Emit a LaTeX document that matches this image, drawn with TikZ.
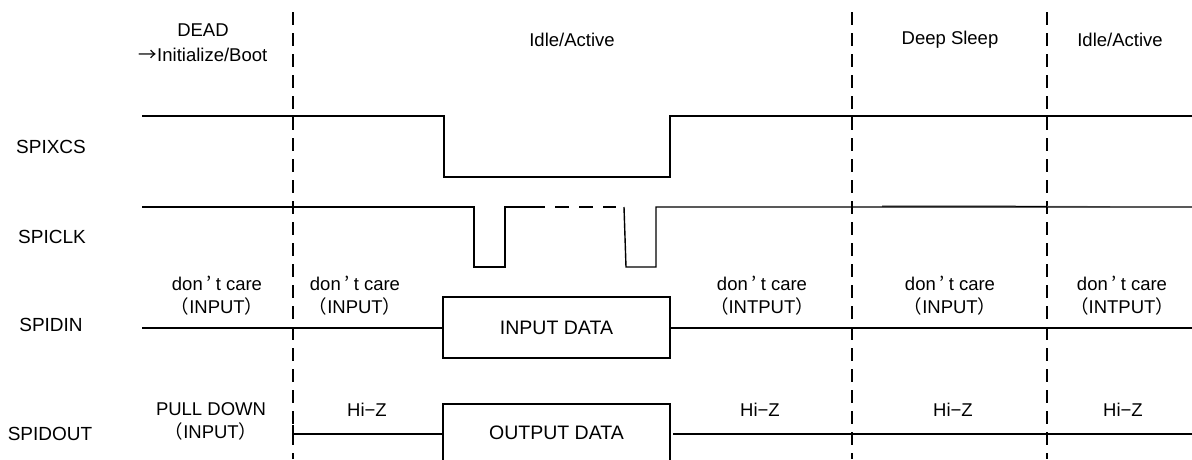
\documentclass[tikz,border=0pt]{standalone}
\usepackage{fontspec}
\setmainfont{Liberation Sans}
\newfontfamily\jp{Noto Sans CJK JP}
% half-width CJK brackets, a spaced apostrophe and a full-size arrow
\newcommand{\lpar}{\makebox[0.48em][r]{\jp（}}
\newcommand{\rpar}{\makebox[0.48em][l]{\jp）}}
\newcommand{\apos}{\makebox[0.7em]{\jp ’}}
\newcommand{\rarr}{{\jp →}}
\begin{document}
\begin{tikzpicture}[x=1pt,y=-1pt,
  sig/.style={line width=1.4pt,line join=miter},
  phase/.style={line width=1.4pt,dash pattern=on 13pt off 8pt},
  signame/.style={font=\fontsize{19}{21}\selectfont,inner sep=0pt},
  note/.style={font=\fontsize{18.5}{23}\selectfont,inner sep=0pt,align=center},
  datatxt/.style={font=\fontsize{19.5}{21}\selectfont,inner sep=0pt}]
\useasboundingbox (0,0) rectangle (1192,459);

% phase boundaries
\foreach \x/\n in {293/b1,852/b2,1047/b3}{
  \coordinate (\n t) at (\x,12);
  \coordinate (\n b) at (\x,459);
  \draw[phase] (\n t) -- (\n b);
}

% phase titles
\node[note] (tdead) at (203,30) {DEAD};
\node[note] (tboot) at (203,55) {\rarr Initialize/Boot};
\node[note] (tidle1) at (572,40) {Idle/Active};
\node[note] (tsleep) at (950,40) {Deep Sleep};
\node[note] (tidle2) at (1120,40) {Idle/Active};

% signal names
\node[signame] (ncs) at (51,147) {SPIXCS};
\node[signame] (nclk) at (52,237) {SPICLK};
\node[signame] (ndin) at (51,325) {SPIDIN};
\node[signame] (ndout) at (50,434) {SPIDOUT};

% SPIXCS
\draw[sig] (142,116) -- (444,116) -- (444,177) -- (670,177) -- (670,116) -- (1192,116);

% SPICLK (faint overdrawn stroke in the sleep phase first)
\draw[line width=1pt] (882,206) -- (1047,206.3);
\draw[line width=1pt,gray!60] (1047,206.3) -- (1110,206.6);
\draw[sig] (142,207) -- (474,207) -- (474,267) -- (505,267) -- (505,207) -- (545,207);
\draw[sig,dash pattern=on 14pt off 10pt] (555,207) -- (616,207);
\draw[sig] (624,207) -- (626,267) -- (656,267) -- (656,207) -- (1192,207);

% SPIDIN
\draw[sig] (142,328) -- (443,328);
\draw[sig] (443,297) rectangle (670,358);
\draw[sig] (670,328) -- (1192,328);
\node[datatxt] (din) at (556.5,328) {INPUT DATA};

% SPIDOUT
\draw[sig] (293,425) -- (293,443);
\draw[sig] (293,434) -- (443,434);
\draw[sig] (443,460) -- (443,404) -- (670,404) -- (670,460);
\draw[sig] (673,434) -- (1192,434);
\node[datatxt] (dout) at (556.5,433) {OUTPUT DATA};

% state annotations
\node[note] (dc1) at (217,296) {don\apos t care\\\lpar INPUT\rpar};
\node[note] (dc2) at (355,296) {don\apos t care\\\lpar INPUT\rpar};
\node[note] (dc3) at (762,296) {don\apos t care\\\lpar INTPUT\rpar};
\node[note] (dc4) at (950,296) {don\apos t care\\\lpar INPUT\rpar};
\node[note] (dc5) at (1122,296) {don\apos t care\\\lpar INTPUT\rpar};

\node[note] (pd) at (211,421) {PULL DOWN\\\lpar INPUT\rpar};
\node[note] (hz1) at (367,410) {Hi−Z};
\node[note] (hz2) at (760,410) {Hi−Z};
\node[note] (hz3) at (953,410) {Hi−Z};
\node[note] (hz4) at (1123,410) {Hi−Z};
\end{tikzpicture}
\end{document}
